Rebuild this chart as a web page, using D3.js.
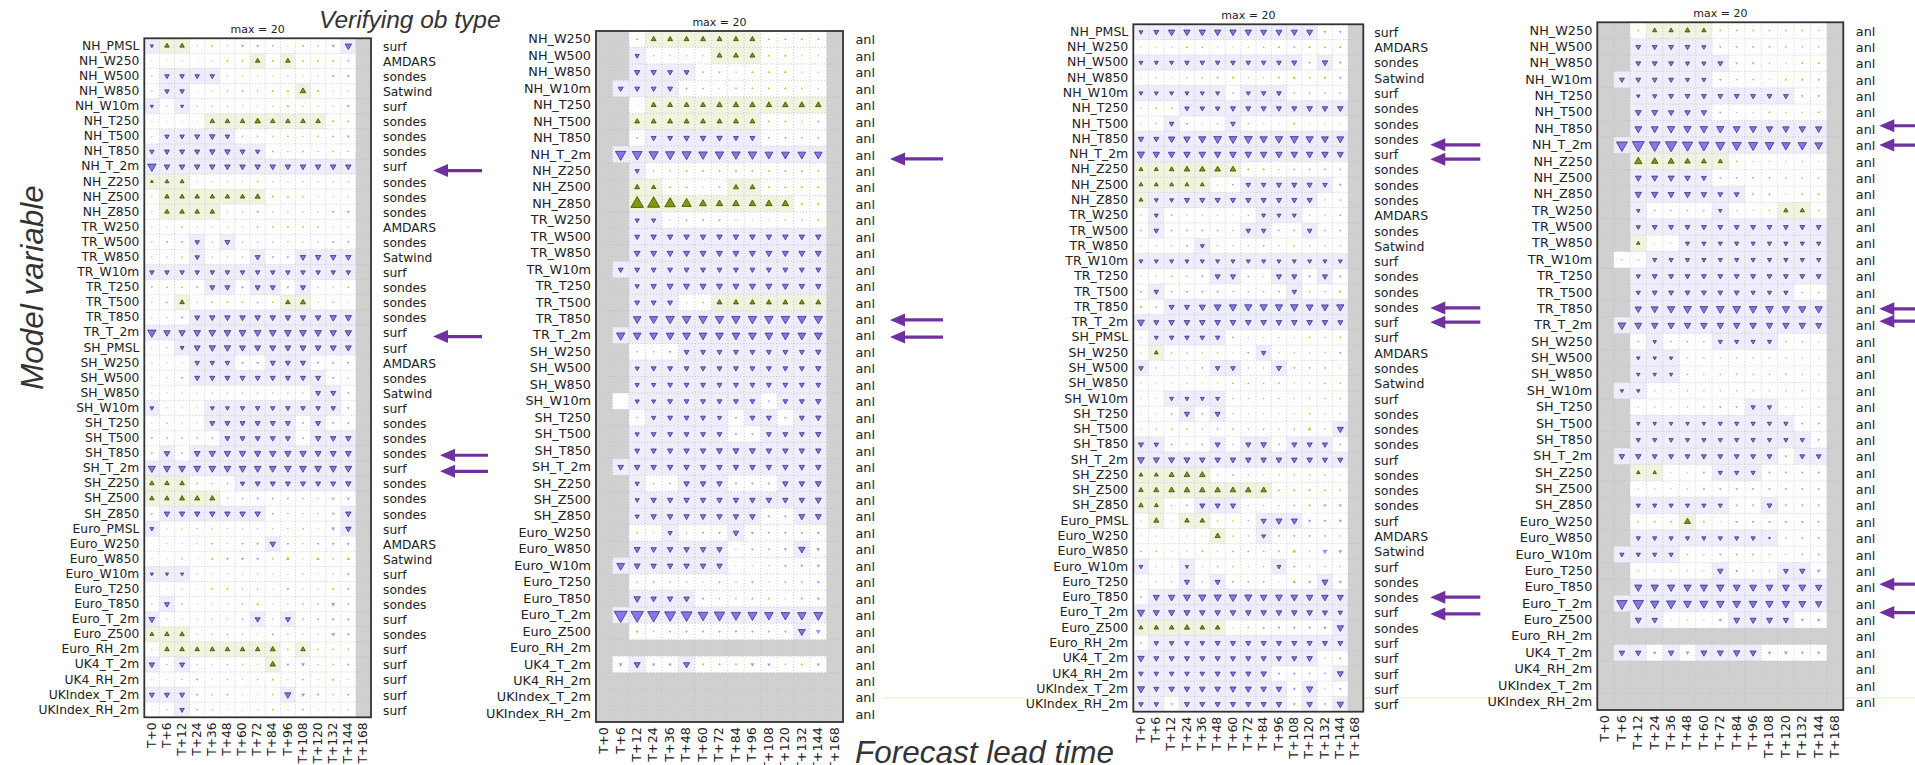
<!DOCTYPE html>
<html><head><meta charset="utf-8">
<script src="https://cdn.jsdelivr.net/npm/d3@7"></script>
<style>body{margin:0;background:#fff}svg{display:block}</style>
</head><body>
<svg id="c" width="1915" height="765"></svg>
<script>
const N = null;
const leadTimes = ["T+0","T+6","T+12","T+24","T+36","T+48","T+60","T+72","T+84","T+96","T+108","T+120","T+132","T+144","T+168"];

const obsVars = ["NH_PMSL","NH_W250","NH_W500","NH_W850","NH_W10m","NH_T250","NH_T500","NH_T850","NH_T_2m","NH_Z250","NH_Z500","NH_Z850",
 "TR_W250","TR_W500","TR_W850","TR_W10m","TR_T250","TR_T500","TR_T850","TR_T_2m",
 "SH_PMSL","SH_W250","SH_W500","SH_W850","SH_W10m","SH_T250","SH_T500","SH_T850","SH_T_2m","SH_Z250","SH_Z500","SH_Z850",
 "Euro_PMSL","Euro_W250","Euro_W850","Euro_W10m","Euro_T250","Euro_T850","Euro_T_2m","Euro_Z500","Euro_RH_2m",
 "UK4_T_2m","UK4_RH_2m","UKIndex_T_2m","UKIndex_RH_2m"];
const obsTypes = ["surf","AMDARS","sondes","Satwind","surf","sondes","sondes","sondes","surf","sondes","sondes","sondes",
 "AMDARS","sondes","Satwind","surf","sondes","sondes","sondes","surf",
 "surf","AMDARS","sondes","Satwind","surf","sondes","sondes","sondes","surf","sondes","sondes","sondes",
 "surf","AMDARS","Satwind","surf","sondes","sondes","surf","sondes","surf",
 "surf","surf","surf","surf"];

const anlVars = ["NH_W250","NH_W500","NH_W850","NH_W10m","NH_T250","NH_T500","NH_T850","NH_T_2m","NH_Z250","NH_Z500","NH_Z850",
 "TR_W250","TR_W500","TR_W850","TR_W10m","TR_T250","TR_T500","TR_T850","TR_T_2m",
 "SH_W250","SH_W500","SH_W850","SH_W10m","SH_T250","SH_T500","SH_T850","SH_T_2m","SH_Z250","SH_Z500","SH_Z850",
 "Euro_W250","Euro_W850","Euro_W10m","Euro_T250","Euro_T850","Euro_T_2m","Euro_Z500","Euro_RH_2m",
 "UK4_T_2m","UK4_RH_2m","UKIndex_T_2m","UKIndex_RH_2m"];
const anlTypes = anlVars.map(() => "anl");

// Panel 1: verification against observations
const p1Vals = [
[-1,2,2,0.3,0.8,0.3,-0.8,-0.8,-0.5,0.3,0.8,0.6,-1,-4,N],
[0.2,0.2,0.2,0.2,0.3,0.6,0.6,2,0.8,2,0.6,0.6,0.8,-0.5,N],
[-0.3,-2,-2,-2,-2,0.3,0.3,0.3,0.3,-0.3,0.3,0.3,-0.8,-0.8,N],
[-0.3,-2,-2,0.2,0.3,-0.3,-0.6,-0.3,0.8,0.8,3,0.8,0.3,0.3,N],
[-1,-0.3,-1,-0.3,-0.3,-0.3,0.3,0.3,0.3,0.8,0.3,0.3,0.3,-0.8,N],
[0.2,0.2,0.2,0.2,2,2,2,3,2,2,2,2,0.6,0.6,N],
[-0.2,-2,-2,-2.5,-3,-2,-0.3,-0.3,-0.3,0.6,0.3,0.6,-0.6,-0.8,N],
[-2,-2.5,-2.5,-2.5,-3,-3,-2.5,-2,-0.5,-0.3,0.6,-0.3,0.6,-0.3,N],
[-7,-3,-3,-3,-3,-3,-3,-3,-3,-3,-3,-3,-3,-3,N],
[0.8,1.5,1.5,0.2,0.3,0.3,0.3,0.6,0.3,0.3,-0.3,0.3,-0.3,-0.3,N],
[0.3,2,2,2,2,2,2,2.5,0.8,0.6,0.6,0.3,0.3,0.3,N],
[0.3,2,2,2,2,0.3,-0.3,-0.6,-0.3,-0.3,-0.3,-0.3,-0.6,-0.8,N],
[0.3,0.3,0.6,0.3,0.3,0.3,0.3,0.6,0.6,0.6,0.6,0.6,0.3,0.3,N],
[-0.3,-0.6,-0.6,-2,-0.3,-2.5,-0.3,-0.3,-0.3,-0.3,-0.3,-0.3,-0.6,-0.6,N],
[-0.3,-0.3,0.6,-2,-0.3,-0.3,-0.3,-2.5,-0.6,-0.6,-3,-3,-3,-3,N],
[-2,-2,-2,-2,-2,-2,-2,-2,-2,-2,-2,-2,-2,-2,N],
[-0.5,0.5,0.5,-0.5,-2.5,-2.5,-0.8,-2.5,-2.5,-0.6,-2.5,-0.3,-0.3,0.5,N],
[-0.3,-0.5,2,0.3,0.6,0.6,0.6,-0.5,0.6,2,2.5,0.3,0.6,0.2,N],
[-0.2,-0.2,-0.8,-2.5,-3,-3,-3,-3,-3,-3,-3,-3,-4,-4,N],
[-7,-4,-4,-4.5,-4.5,-4.5,-4.5,-4.5,-4.5,-4.5,-4.5,-4.5,-4,-4,N],
[0.2,0.5,-1.5,-3.5,-4,-4,-3.5,-3.5,-3.5,-3.5,-3.5,-3.5,-3.5,-3.5,N],
[0.3,-0.2,-0.2,-2,-2,-2,-0.6,-0.8,-2.5,-2.5,-2.5,-0.6,-0.6,-0.6,N],
[0.3,-0.3,-0.6,-2.5,-2.5,-2.5,-2.5,-2.5,-2.5,-2.5,-2.5,-2.5,-0.6,-0.3,N],
[-0.2,-0.2,-0.2,-0.2,-0.3,-0.3,-0.3,-0.3,-0.3,-0.3,-0.3,-2.5,-2.5,-0.6,N],
[-1.5,-0.2,-0.2,-0.2,-1.5,-1.5,-2,-2,-2,-2,-2,-2,-2,-0.6,N],
[-0.2,0.5,-0.2,-0.2,-2.5,-2.5,-2.5,-2.5,-2.5,-2.5,-0.6,-2.5,-0.6,-0.6,N],
[-0.5,-0.5,-0.5,-0.5,-0.6,-2.5,-2.5,-2.5,-2.5,-2.5,-0.6,-3,-3,-3,N],
[-0.5,-3,-0.5,-3.5,-4,-4,-4,-4,-4,-4,-4,-3.5,-3.5,-3.5,N],
[-5,-4.5,-4.5,-4.5,-4.5,-4.5,-4.5,-4.5,-4.5,-4.5,-4.5,-4.5,-4.5,-4.5,N],
[2,2,2,0.6,0.3,-0.5,-2,-2.5,-2.5,-2.5,-2.5,-2.5,-2.5,-3,N],
[2,2,2.5,2.5,2.5,0.3,-0.5,-0.6,-0.6,-0.5,0.5,-0.3,-0.8,-0.8,N],
[-0.5,-3,-3,-3,-3,-3,-3,-3,-0.5,-0.3,-0.3,-0.3,-0.8,-3,N],
[-1.5,0.3,0.5,0.5,0.5,0.3,-0.3,-0.3,-0.3,-0.3,0.6,0.2,-1.5,-3,N],
[0.1,-0.2,-0.2,-0.2,-0.5,-0.2,-0.5,-0.6,-3,-0.6,-0.3,-0.6,-0.8,-0.8,N],
[-0.2,-0.2,-0.5,0.2,0.8,-0.8,-0.8,-0.8,0.6,1.5,0.3,1.2,0.6,1.2,N],
[-1,-1,-1,-0.2,-0.2,-0.2,-0.2,-0.3,-0.2,-0.2,-0.3,-0.2,-0.3,-0.8,N],
[0.1,0.2,0.3,0.2,0.6,0.6,-0.3,-0.5,0.2,-0.6,0.3,-0.3,0.8,-0.6,N],
[-0.3,-2.5,-0.5,0.2,-0.2,-0.2,0.6,0.8,0.2,-0.3,0.6,-0.5,-1.5,-0.6,N],
[-3.5,-0.2,-0.2,-0.2,-0.3,-0.3,-0.5,-2.5,-0.3,-2.5,-0.5,-0.6,-0.8,-0.8,N],
[1.5,2,2,0.3,-0.3,-0.5,-0.3,0.3,-0.6,-0.3,-0.3,-0.3,-1.5,-0.8,N],
[0.3,2,2,2,2,2,2,2,2.5,0.6,2,0.5,0.5,0.5,N],
[-3,-0.3,-2.5,-0.2,-0.2,-0.3,0.5,0.3,3,-0.8,-1.5,-0.3,0.5,-0.6,N],
[0.2,0.2,-0.3,-0.6,0.2,0.5,0.2,0.5,0.8,0.2,-0.5,0.2,0.8,0.2,N],
[-2.5,-2.5,-2.5,-0.5,-0.3,-0.5,-0.2,-0.2,0.5,-4,-1.5,-0.8,0.5,-0.6,N],
[0.2,-0.3,-2,-0.5,-0.3,0.2,0.2,0.3,0.6,0.3,-0.5,0.2,0.3,0.3,N]
];
const p1Sig = ["111000000000010","000000010100000","011110000000000","011000000010000","101000000000000",
"000011111111000","011111000000000","111111110000000","111111111111110","111000000000000","011111110000000","011110000000000",
"000000000000000","000101000000000","000100010011110","111111111111110","000011011010000","001000000110000","000111111111110","111111111111110",
"001111111111110","000111001110000","000111111111000","000000000001100","100011111111100","000011111101000","000001111101110","010111111111110","111111111111110","111000111111110","111110000000000","011111110000010",
"100000000000010","000000001000000","000000000000000","111000000000000","000000000000000","010000000000000","100000010100000","111000000000000","011111111010000",
"101000001000000","000000000000000","111000000100000","001000000000000"];

// Panel 2: verification against analysis
const p2Vals = [
[N,N,0.5,2,2,2,2,2,2,2,0.6,0.6,0.6,0.6,N],
[N,N,-1.5,-0.3,-0.3,-0.3,0.3,2,2,2,0.6,0.6,0.3,0.3,N],
[N,N,-2.5,-2.5,-2,-2,-0.5,-0.5,0.3,0.6,0.6,0.6,0.3,0.3,N],
[N,-2,-2,-2,-2,-0.5,-0.3,0.2,0.6,0.6,0.6,0.6,0.5,0.3,N],
[N,N,0.2,2,2,2,2,2.5,2.5,2.5,2.5,2.5,2.5,2.5,N],
[N,N,2,2,2,2,2,2,2,2,0.6,0.6,0.3,-0.5,N],
[N,N,-0.5,-2,-2,-2.5,-2.5,-2.5,-2,-2,-0.5,-0.5,-0.5,-0.5,N],
[N,-9,-8,-7,-7,-7,-6,-6,-6,-6,-5,-5,-5,-5,N],
[N,N,-1.5,-0.3,0.5,0.6,0.6,0.6,0.6,0.6,0.6,0.6,0.6,0.6,N],
[N,N,2,1.5,0.5,0.5,0.3,0.5,2,2,0.6,0.6,0.6,0.6,N],
[N,N,13,12,9,7,4,3.5,3.5,3.5,3.5,3.5,0.8,0.8,N],
[N,N,-1.5,-1.5,-0.3,-0.5,-0.5,-0.6,-0.3,0.2,0.2,0.3,0.3,0.6,N],
[N,N,-2,-2.5,-2.5,-2.5,-2.5,-2.5,-2.5,-2.5,-2.5,-2.5,-2.5,-2.5,N],
[N,N,-3,-3,-3,-3,-3,-3,-3,-3,-3,-3,-3,-3,N],
[N,-2,-2,-2,-2,-2,-2,-2,-2,-2,-2,-2,-2,-2,N],
[N,N,-1.5,-2.5,-3,-3,-3,-3,-3,-3,-3,-3,-2.5,-2.5,N],
[N,N,-2,-2,-2,-0.2,0.5,2,2,2,2,2,2,2,N],
[N,N,-5,-5.5,-6,-6,-6,-6,-6,-6,-6,-6,-6,-6,N],
[N,-6,-5,-5,-5,-5,-5,-5,-5,-5,-5,-5,-5,-5,N],
[N,N,-0.3,-0.3,-0.6,-2,-2,-2,-2,-2,-2,-2,-2,-2.5,N],
[N,N,-1.5,-2,-2,-2,-2,-2,-2,-2,-2,-2,-2,-2.5,N],
[N,N,-1.5,-1.5,-2,-2,-2,-2,-2,-2,-2,-2,-2,-2,N],
[N,0,-1.5,-1.5,-2,-2,-2,-2,-2,-2,-0.5,-2,-2,-2.5,N],
[N,N,-0.3,-1.5,-2,-2,-2,-1.5,-0.5,-2,-2,-0.5,-2,-2.5,N],
[N,N,-1.5,-2,-2,-2,-2,-2,-0.5,-0.5,-2,-2,-2,-2.5,N],
[N,N,-2,-2.5,-2.5,-2.5,-2.5,-3,-3,-3,-2.5,-2.5,-2.5,-2.5,N],
[N,-2.5,-2.5,-2.5,-2.5,-2.5,-2.5,-2.5,-2.5,-2.5,-2.5,-2.5,-2.5,-2.5,N],
[N,N,-1.5,-0.3,-0.5,-2.5,-2.5,-2.5,-0.6,-0.6,-0.6,-2.5,-2.5,-3,N],
[N,N,-1.5,-2.5,-2.5,-2.5,-2.5,-2.5,-2.5,-2.5,-2.5,-2.5,-2.5,-3,N],
[N,N,-1.5,-2.5,-2.5,-2.5,-2.5,-2.5,-2.5,-2.5,-0.6,-0.6,-3,-3,N],
[N,N,0.5,0.3,-1.5,-0.3,-0.5,-0.6,-2.5,-0.8,-0.5,-0.5,-0.6,-0.8,N],
[N,N,-3,-2.5,-2.5,-2.5,-2.5,-2.5,-0.3,-0.6,-0.5,-0.8,-3.5,-1.2,N],
[N,-5,-3,-2.5,-2.5,-2.5,-2.5,-2.5,-0.2,-0.2,-0.3,-0.6,-0.8,-0.8,N],
[N,N,-0.3,-0.5,0.3,0.3,-0.2,-0.5,0.3,-0.6,-0.2,-0.5,-0.5,-0.8,N],
[N,N,-3.5,-2.5,-2.5,-2.5,-0.6,-0.3,-0.3,0.6,0.6,-0.2,-0.6,-0.8,N],
[N,-14,-13,-12,-10,-10,-8,-9,-7,-7,-6,-6,-6,-6.5,N],
[N,N,0.8,-0.2,-0.5,-0.6,-0.6,-0.6,-0.6,-0.5,-0.5,-0.6,-4,-2,N],
[N,N,N,N,N,N,N,N,N,N,N,N,N,N,N],
[N,-1.2,-3,-1,-1,-3,0.6,0.6,0.6,-1.2,-1,-0.3,0.6,-1,N],
[N,N,N,N,N,N,N,N,N,N,N,N,N,N,N],
[N,N,N,N,N,N,N,N,N,N,N,N,N,N,N],
[N,N,N,N,N,N,N,N,N,N,N,N,N,N,N]
];
const p2Sig = ["000111111100000","001000011100000","001111000000000","011110000000000","000111111111110","001111111100000","000111111100000","011111111111110","001000000000000","001100001100000","001111111111000",
"001100000000000","001111111111110","001111111111110","011111111111110","001111111111110","001110011111110","001111111111110","011111111111110",
"000001111111110","001111111111110","001111111111110","001111111101110","000111110110110","001111110011110","001111111111110","011111111111110","001001110001110","001111111111110","001111111100110",
"000010001000000","001111110000100","011111110000000","000000000000000","001111000000000","011111111111110","000000000000100","000000000000000",
"001001000000000","000000000000000","000000000000000","000000000000000"];

// Panel 3: verification against observations
const p3Vals = [
[-1.5,-2.5,-4,-4,-4,-4,-4,-4,-3.5,-3.5,-3.5,-3.5,-0.8,-0.8,N],
[0.2,0.2,0.3,0.6,0.5,0.2,0.2,0.3,0.5,0.8,-0.5,0.8,0.6,0.8,N],
[-1.5,-1.5,-1.5,-2,-2,-2,-2,-2,-2,-2,-2.5,-0.6,-3,-0.8,N],
[0.2,0.3,0.2,-0.3,0.5,-0.5,0.8,0.3,0.3,0.8,1,0.5,1,-0.6,N],
[-1.5,-1.5,-1.5,-1.5,-1.5,-1.5,-0.5,-1.5,-2,-2,-0.5,-0.5,-0.5,-0.5,N],
[0.3,0.5,0.5,-2,-2,-2,-2.5,-2.5,-2.5,-2.5,-2.5,-3,-3,-3,N],
[0.2,-0.3,-2,-0.5,-0.2,-0.3,-2,-0.3,0.2,-0.2,0.8,0.2,0.2,0.2,N],
[-3,-2.5,-4,-4,-5,-6,-6,-6,-5,-5.5,-6,-5,-4.5,-4.5,N],
[-5,-4,-4,-4,-4,-4,-4,-4,-4,-4,-4,-4,-4,-3.5,N],
[1.5,1.5,2,3,3,3,3,0.8,0.8,-0.3,-0.5,-0.5,-0.5,-0.5,N],
[1.5,1.5,1.5,1.5,1.5,0.3,-0.5,-2,-2,-2.5,-2.5,-2.5,-2,-0.8,N],
[1.5,-1.5,-1.5,-2.5,-2.5,-2.5,-2.5,-2.5,-2.5,-2.5,-2.5,-2.5,-0.3,0.5,N],
[-0.3,-1.5,-0.5,-0.3,-0.3,-0.3,-0.2,-0.3,-1.5,-1.5,-1.5,-0.3,-0.3,0.6,N],
[-0.5,-2,-0.5,-0.5,-0.5,-0.5,-0.3,-2,-2,-0.5,-0.5,-2,-0.5,-0.5,N],
[-0.2,-0.2,-0.3,-0.5,-1.5,-0.3,-0.3,-0.3,-0.5,-0.3,0.5,-0.3,-0.3,-0.3,N],
[-1.5,-1.5,-1.5,-1.5,-1.5,-1.5,-1.5,-1.5,-1.5,-1.5,-1.5,-1.5,-1.5,-1.5,N],
[-0.2,0.3,0.6,0.5,-0.6,-2.5,-2.5,-0.5,-0.2,-2.5,-2.5,-0.8,-2.5,-0.8,N],
[-0.5,-2,-0.5,-0.5,-0.5,-0.5,-0.3,-0.3,-0.3,-0.5,-2,0.5,-0.3,0.8,N],
[1,-0.5,-2.5,-2.5,-3.5,-4.5,-5,-5,-5,-5,-5.5,-4.5,-4.5,-5,N],
[-4.5,-2.5,-3,-3,-3,-3,-3,-3,-3,-3,-3,-3,-3,-2.5,N],
[-0.2,-1.5,-2,-2,-2,-2,-0.5,-0.2,-0.2,-0.3,-0.2,0.5,-0.3,0.5,N],
[0.3,1.5,0.5,0.5,0.5,0.5,0.2,-0.5,-2,-0.3,-0.3,-0.3,-0.3,-0.6,N],
[-2,-0.3,-0.2,-0.3,-0.5,-2,-2,-0.3,-0.3,-2.5,-0.5,-0.5,-0.5,0.3,N],
[-0.2,0.2,0.2,0.3,0.2,0.3,0.5,0.5,-0.3,-0.5,0.3,0.3,0.5,0.5,N],
[0.2,0.2,-1.5,-1.5,-1.5,-1.5,-0.3,-0.3,-0.3,-0.3,-0.3,-0.3,-0.3,0.5,N],
[0.2,-0.2,-0.5,-2.5,-0.5,-2.5,-0.3,-0.2,-0.2,-0.2,0.3,0.5,0.3,0.3,N],
[-0.2,-0.3,0.6,0.6,-0.3,-0.5,-0.5,-0.3,-0.5,-0.3,-0.5,1.5,-0.3,-3.5,N],
[-2.5,-2,-0.6,-0.3,-0.6,-2.5,-0.3,-2.5,-3,-0.5,-2.5,-2.5,-2.5,-0.6,N],
[-4.5,-3.5,-3.5,-3.5,-3,-3,-3,-3,-3,-3,-3,-3,-2.5,-2.5,N],
[1.5,1.5,2.5,3,3,-0.3,-0.5,-0.3,-0.2,0.5,0.5,0.5,0.5,-0.2,N],
[2,2.5,3,3,3,3,3,3,3,0.6,0.6,0.8,0.6,0.5,N],
[2,1.5,-0.3,-0.5,-2.5,-2.5,-2.5,-0.3,-0.3,-0.3,-0.5,0.8,-1,-1,N],
[0.3,2.5,0.2,2,2,0.5,0.5,-0.3,-2.5,-3.5,-3.5,-1,-0.8,-1,N],
[-0.2,0.2,0.2,0.3,0.3,2.5,0.5,-0.3,-1.5,-0.6,-0.6,-0.6,-0.6,-0.3,N],
[0.5,0.5,0.2,0.3,0.6,-0.3,-0.5,-0.5,0.5,-0.6,1.5,-0.3,-3,-1.5,N],
[-1.5,-0.2,-0.2,-1,-0.2,0.5,0.5,-0.2,-0.3,-1.5,-0.5,-0.3,-0.3,-0.3,N],
[-0.2,0.3,-0.3,-2.5,-0.3,-2.5,-0.6,-0.6,-0.5,0.2,1.2,-0.8,-3.5,-1,N],
[-0.6,-3.5,-4,-4.5,-5,-5,-5.5,-5,-4,-4.5,-4.5,-4,-4,-3.5,N],
[-5,-3.5,-3.5,-3.5,-3,-3,-3,-3,-3,-3,-3,-3,-2.5,-2,N],
[1.5,2,2,2.5,2,2,0.3,0.5,-0.6,-0.8,-0.8,-0.8,-1.2,-4,N],
[-0.5,-2,-2,-2,-2,-2.5,-2.5,-2.5,-2.5,-2.5,-2.5,-2.5,-2.5,-2.5,N],
[-4,-2.5,-2.5,-2.5,-2.5,-2.5,-2.5,-2.5,-2.5,-2.5,-2.5,-3,-0.3,-0.6,N],
[-2,-2,-2,-2,-2,-2.5,-2.5,-2.5,-3,-0.8,-0.8,-0.5,-0.5,-3.5,N],
[-5,-2.5,-3,-3,-3,-3,-3.5,-3.5,-3,-3,-1,-4,-0.2,-0.6,N],
[-2,-2,-0.6,-2.5,-2.5,-2.5,-2.5,-2.5,-2.5,-3,-0.8,-3,-0.6,-4,N]
];
const p3Sig = ["111111111111000","000000000000000","111111111110100","000000000000000","111111011100000","000111111111110","001000100000000","111111111111110","111111111111110","111111100000000","111110011111100","111111111111000",
"010000001110000","010000011001000","000010000000000","111111111111110","000001100110100","010000000010000","001111111111110","111111111111110",
"011111000000000","010000001000000","100001100100000","000000000000000","001111000000000","000101000000000","000000000000010","110001011011100","111111111111110","111110000000000","111111111000000","110011100000000",
"010110001110000","000001001000000","000000000000000","100100000100000","000101000000100","011111111111110","111111111111110","111111000000010","011111111111110",
"111111111111000","111111111000010","111111111101000","110111111101010"];

// Panel 4: verification against analysis
const p4Vals = [
[N,N,0.5,1.5,1.5,2,1.5,0.5,0.5,0.5,0.5,0.5,0.5,0.3,N],
[N,N,-2,-2,-2,-2,-1.5,-0.5,-0.5,-0.5,-0.5,-0.5,-0.3,-0.3,N],
[N,N,-2,-2,-2,-1.5,-1.5,-2,-0.5,-0.5,-0.3,0.3,0.5,0.5,N],
[N,-2,-2,-2,-2,-1.5,-1.5,-0.5,-0.3,-0.3,0.2,0.6,0.6,0.6,N],
[N,N,-1,-1.5,-2,-2,-2,-2,-2,-2,-2,-2,-0.5,-0.5,N],
[N,N,-3,-3,-2.5,-2.5,-2.5,-0.5,-0.2,-0.2,0.5,0.3,0.3,0.5,N],
[N,N,-4,-4,-4.5,-4.5,-4.5,-4.5,-4,-4,-3.5,-3.5,-3.5,-3.5,N],
[N,-10,-12,-10,-11,-9,-8.5,-7,-7,-7,-6.5,-6,-6,-5,N],
[N,N,4.5,3.5,3,2.5,2,1.5,0.5,0.3,0.3,0.3,0.3,0.2,N],
[N,N,-3,-3,-3,-2.5,-2,-0.5,-0.5,-0.5,-0.5,-0.3,-0.3,-0.3,N],
[N,N,-3.5,-3.5,-3,-3,-2.5,-2,-2,-0.5,-0.5,0.2,0.5,0.5,N],
[N,N,-1,-0.3,-0.3,-0.3,-0.3,-1,-0.2,0.2,0.5,1.5,1.5,0.5,N],
[N,N,-1.5,-2,-2,-2,-2,-2,-2,-2,-2,-2,-2,-2,N],
[N,N,1,0.2,0.2,-1.5,-1.5,-1.5,-1.5,-1.5,-1.5,-1.5,-1.5,-1.5,N],
[N,-0.3,-0.3,-1.5,-1.5,-1.5,-1.5,-1.5,-1.5,-1.5,-1.5,-1.5,-1.5,-1.5,N],
[N,N,-1.5,-2,-2,-2,-2,-2,-2,-2,-2,-2,-2,-2,N],
[N,N,-1.5,-2,-2,-2,-2,-2,-2,-1.5,-1.5,-1.5,-0.3,-0.3,N],
[N,N,-3.5,-4,-4.5,-5,-5,-5,-5,-5,-5,-4.5,-4.5,-4.5,N],
[N,-5,-4,-3.5,-3.5,-3.5,-3.5,-3.5,-3.5,-3.5,-3.5,-3.5,-3.5,-3,N],
[N,N,-0.3,-1,-0.3,-0.3,-0.3,-1.5,-1.5,-1.5,-1.5,-0.3,-0.3,-0.2,N],
[N,N,-1,-1,-1,-0.3,-0.3,-0.3,-0.3,-0.3,-0.3,-0.3,-0.2,0.2,N],
[N,N,-1,-1,-1,-0.3,-0.3,-0.3,-0.3,-0.3,-0.3,-0.3,-0.2,-0.2,N],
[N,-1,-1,-0.3,-0.2,-0.3,-0.3,-0.3,-0.3,-0.3,-0.3,-0.3,-0.3,0.2,N],
[N,N,-0.2,-0.2,-0.2,0.3,-0.3,-0.5,-0.5,-1.5,-1.5,-0.2,0.3,0.3,N],
[N,N,-1,-1,-1,-1,-1,-1.5,-1.5,-1.5,-1.5,-1.5,-0.5,-0.5,N],
[N,N,-1.5,-1.5,-1.5,-1.5,-1.5,-1.5,-1.5,-1.5,-1.5,-1.5,-1.5,-0.5,N],
[N,-2.5,-2.5,-2,-2,-2,-2,-2,-2,-2,-2,-0.5,-2,-2,N],
[N,N,1,1,0.2,-0.2,-0.5,-1.5,-1.5,-1.5,-0.5,-0.5,-0.5,-0.5,N],
[N,N,-0.2,-0.3,-0.2,-0.3,-0.5,-0.5,-0.5,-0.5,-0.5,-0.5,-0.5,-0.5,N],
[N,N,-1.5,-1.5,-1.5,-1.5,-1.5,-1.5,-0.5,-0.5,-2,-0.5,-0.5,-0.5,N],
[N,N,0.5,0.6,0.6,3,0.6,-0.2,-0.6,-0.6,-0.6,-0.6,-0.6,-0.5,N],
[N,N,-1.5,-1.5,-1.5,-1.5,-1.5,-1.5,-1.5,-1.5,-0.3,-0.3,-0.5,-0.5,N],
[N,-1.5,-1.5,-1.5,-1.5,-0.3,-0.3,-0.5,-0.5,-0.5,-0.3,-0.2,-0.5,-0.5,N],
[N,N,-0.2,-0.2,-0.2,-0.2,-0.2,-2.5,-0.6,-0.3,-0.3,-2,-2.5,-1.2,N],
[N,N,-4.5,-4.5,-4.5,-4.5,-4.5,-4.5,-4,-4,-4,-4,-4,-3.5,N],
[N,-9,-9,-6,-7,-5,-5.5,-5,-5,-5,-4.5,-4.5,-4,-3.5,N],
[N,N,-3,-2.5,-0.2,0.3,-0.2,-1,-3,-3,-3,-2.5,-0.8,-1,N],
[N,N,N,N,N,N,N,N,N,N,N,N,N,N,N],
[N,-2.5,-2.5,-1,-2.5,-1.2,-3,-3,-3.5,-3,-1,-1.2,-0.8,-0.8,N],
[N,N,N,N,N,N,N,N,N,N,N,N,N,N,N],
[N,N,N,N,N,N,N,N,N,N,N,N,N,N,N],
[N,N,N,N,N,N,N,N,N,N,N,N,N,N,N]
];
const p4Sig = ["000111100000000","001111100000000","001111110000000","011111100000000","001111111111000","001111100000000","001111111111110","011111111111110","001111110000000","001111100000000","001111111000000",
"001000010001100","001111111111110","001001111111110","000111111111110","001111111111110","001111111111000","001111111111110","011111111111110",
"000100011110000","001110000000000","001110000000000","011000000000000","000000000110000","001111111111000","001111111111100","011111111110110","001100011100000","000000000000000","001111110010000",
"000001000000000","001111111110000","011110000000000","000000010001100","001111111111110","011111111111110","001100001111000","000000000000000",
"011010111100000","000000000000000","000000000000000","000000000000000"];

const maxLabel = "max = 20";
const maxVal = 20;

// highlighted rows (arrows): [row, vertical nudge]
const p1Arrows = [["NH_T_2m",4,62,49],["TR_T_2m",4,62,49],["SH_T850",2,69,48],["SH_T_2m",3,69,48]];
const p2Arrows = [["NH_T_2m",4.5,47,53],["TR_T850",1,47,53],["TR_T_2m",1.7,47,53]];
const p3Arrows = [["NH_T850",6,67,50],["NH_T_2m",5,67,50],["TR_T850",1,67,50],["TR_T_2m",0,67,50],["Euro_T850",0,67,50],["Euro_T_2m",1.5,67,50]];
const p4Arrows = [["NH_T850",-3,36,60],["NH_T_2m",0,36,60],["TR_T850",0,36,60],["TR_T_2m",-4,36,60],["Euro_T850",-3,36,60],["Euro_T_2m",9,36,60]];

const panels = [
  {vars:obsVars, obs:obsTypes, vals:p1Vals, sig:p1Sig, box:[144.3,38.3,371,717.3], arrows:p1Arrows, obx:12, fs:12.3},
  {vars:anlVars, obs:anlTypes, vals:p2Vals, sig:p2Sig, box:[596,31,843,722], arrows:p2Arrows, obx:12.5, fs:12.8},
  {vars:obsVars, obs:obsTypes, vals:p3Vals, sig:p3Sig, box:[1133.3,24.3,1363.3,711.7], arrows:p3Arrows, obx:11, fs:12.5},
  {vars:anlVars, obs:anlTypes, vals:p4Vals, sig:p4Sig, box:[1597.3,22.3,1843.3,710], arrows:p4Arrows, obx:12.5, fs:12.8}
];

const C = {
  grey:"#d0d0d0", shadeNeg:"#eeedfb", shadePos:"#eff3e0",
  negFill:"#8676ee", negStroke:"#2b2660", negLight:"#a094f7",
  posFill:"#7d9c00", posStroke:"#2c3800", posLight:"#b3cf3a",
  arrow:"#7030a0", text:"#222"
};
const FONT = "'DejaVu Sans', sans-serif";

const svg = d3.select("#c");

// faint background rule
svg.append("line").attr("x1",883).attr("x2",1915).attr("y1",698).attr("y2",698)
  .attr("stroke","#f0f0d8").attr("stroke-width",1.5);

panels.forEach(p => {
  const [x0,y0,x1,y1] = p.box;
  const x = d3.scaleBand().domain(leadTimes).range([x0,x1]);
  const y = d3.scaleBand().domain(p.vars).range([y0,y1]);
  const yIdx = d3.scaleBand().domain(d3.range(p.vars.length)).range([y0,y1]);
  const g = svg.append("g");
  const cells = [];
  p.vals.forEach((row,i) => row.forEach((v,j) => cells.push({v, s: p.sig[i][j]==="1", r:p.vars[i], c:leadTimes[j]})));

  g.selectAll("rect.cell").data(cells).join("rect")
    .attr("x", d => x(d.c)).attr("y", d => y(d.r))
    .attr("width", x.bandwidth()+0.3).attr("height", y.bandwidth()+0.3)
    .attr("fill", d => d.v===null ? C.grey : (d.s ? (d.v<0 ? C.shadeNeg : C.shadePos) : "#fff"));

  // dotted grid
  const gx = leadTimes.slice(1).map(t => x(t));
  const gy = p.vars.slice(1).map(r => y(r));
  g.selectAll("line.vx").data(gx).join("line").attr("x1",d=>d).attr("x2",d=>d).attr("y1",y0).attr("y2",y1)
    .attr("stroke","#b8b8b8").attr("stroke-width",0.7).attr("stroke-dasharray","1,2");
  g.selectAll("line.hy").data(gy).join("line").attr("y1",d=>d).attr("y2",d=>d).attr("x1",x0).attr("x2",x1)
    .attr("stroke","#b8b8b8").attr("stroke-width",0.7).attr("stroke-dasharray","1,2");

  // markers
  const bw = x.bandwidth();
  const wScale = d3.scaleSqrt().domain([0,maxVal]).range([0,bw*0.95]);
  const sym = d3.symbol().type(d3.symbolTriangle);
  g.selectAll("path.mk").data(cells.filter(d => d.v!==null && d.v!==0)).join("path")
    .attr("d", d => { const w = wScale(Math.abs(d.v)); return sym.size(Math.sqrt(3)/4*w*w)(); })
    .attr("transform", d => `translate(${x(d.c)+bw/2},${y(d.r)+y.bandwidth()/2}) rotate(${d.v<0?180:0})`)
    .attr("fill", d => d.s ? (d.v<0?C.negFill:C.posFill) : (d.v<0?C.negLight:C.posLight))
    .attr("stroke", d => d.s ? (d.v<0?C.negStroke:C.posStroke) : "none")
    .attr("stroke-width", d => d.s ? 0.7 : 0);

  // frame
  g.append("rect").attr("x",x0).attr("y",y0).attr("width",x1-x0).attr("height",y1-y0)
    .attr("fill","none").attr("stroke","#333").attr("stroke-width",1.8);

  // left axis (model variables)
  const ax = g.append("g").attr("transform",`translate(${x0},0)`)
    .call(d3.axisLeft(y).tickSize(0).tickPadding(5));
  ax.select(".domain").remove();
  ax.selectAll("text").attr("font-family",FONT).attr("font-size",p.fs).attr("fill",C.text);

  // right labels (verifying ob type)
  const ar = g.append("g").attr("transform",`translate(${x1+p.obx},0)`)
    .call(d3.axisRight(yIdx).tickSize(0).tickPadding(0).tickFormat(i => p.obs[i]));
  ar.select(".domain").remove();
  ar.selectAll("text").attr("font-family",FONT).attr("font-size",p.fs).attr("fill",C.text).attr("dy","0.4em");

  // bottom axis (lead time)
  const ab = g.append("g").attr("transform",`translate(0,${y1})`)
    .call(d3.axisBottom(x).tickSize(0));
  ab.select(".domain").remove();
  ab.selectAll("text").attr("font-family",FONT).attr("font-size",p.fs).attr("fill",C.text)
    .attr("transform","rotate(-90)").attr("text-anchor","end").attr("x",-5).attr("y",0).attr("dy","0.3em");

  // title
  g.append("text").attr("x",(x0+x1)/2).attr("y",y0-5.5).attr("text-anchor","middle")
    .attr("font-family",FONT).attr("font-size",11).attr("fill",C.text).text(maxLabel);

  // arrows
  p.arrows.forEach(([r,dy,tipOff,len]) => {
    const ay = y(r) + y.bandwidth()/2 + dy;
    const tx = x1 + tipOff;
    const hl = 15, hh = 6.5, st = 1.6;
    const pts = [[tx,ay],[tx+hl,ay-hh],[tx+hl,ay-st],[tx+len,ay-st],[tx+len,ay+st],[tx+hl,ay+st],[tx+hl,ay+hh]];
    g.append("path").attr("d", d3.line()(pts)+"Z").attr("fill",C.arrow);
  });
});

// axis titles
const TF = "'Liberation Sans', Arial, sans-serif";
svg.append("text").attr("x",319).attr("y",28).attr("font-family",TF).attr("font-style","italic")
  .attr("font-size",24.5).attr("fill","#333").text("Verifying ob type");
svg.append("text").attr("transform","translate(43,390) rotate(-90)").attr("font-family",TF).attr("font-style","italic")
  .attr("font-size",31.5).attr("fill","#333").text("Model variable");
svg.append("text").attr("x",855).attr("y",763).attr("font-family",TF).attr("font-style","italic")
  .attr("font-size",31.5).attr("fill","#333").text("Forecast lead time");
</script>
</body></html>
